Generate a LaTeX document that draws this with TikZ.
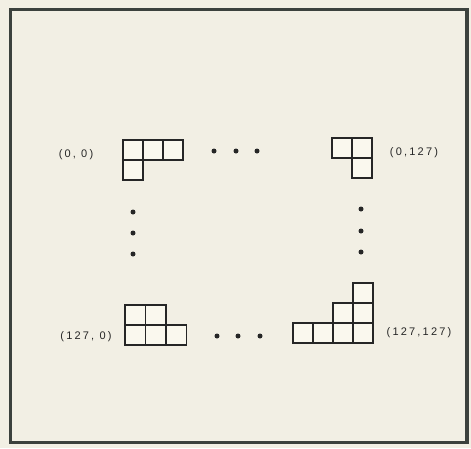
\documentclass[tikz,border=0pt]{standalone}
\usepackage{fontspec}
\usepackage{tikz}
\newfontfamily\lblfont[LetterSpace=20]{Liberation Sans}
\definecolor{paper}{HTML}{F2EFE4}
\definecolor{cellfill}{HTML}{FAF8EE}
\definecolor{framecol}{HTML}{3C413D}
\definecolor{ink}{HTML}{262626}
\tikzset{
    cell/.style={draw=ink, fill=cellfill, line width=1.5pt},
    lbl/.style={inner sep=0pt, text=ink, font=\lblfont\fontsize{11}{13}\selectfont},
    dot/.style={fill=ink}
}

\begin{document}
\begin{tikzpicture}[x=1pt, y=-1pt]
    \useasboundingbox[fill=paper] (0,0) rectangle (471,448);
    \draw[framecol, line width=3.8pt] (10.5,9.5) rectangle (467,442.5);
    % The four corner shapes.
    \begin{scope}[shift={(123,140)}]
        \foreach \i/\j in {0/0,1/0,2/0,0/1}
            \draw[cell] (20*\i,20*\j) rectangle ++(20,20);
    \end{scope}
    \begin{scope}[shift={(332,138)}]
        \foreach \i/\j in {0/0,1/0,1/1}
            \draw[cell] (20*\i,20*\j) rectangle ++(20,20);
    \end{scope}
    \begin{scope}[shift={(125,305)}]
        \foreach \i/\j in {0/0,1/0,0/1,1/1,2/1}
            \draw[cell] (20.5*\i,20*\j) rectangle ++(20.5,20);
    \end{scope}
    \begin{scope}[shift={(293,283)}]
        \foreach \i/\j in {3/0,2/1,3/1,0/2,1/2,2/2,3/2}
            \draw[cell] (20*\i,20*\j) rectangle ++(20,20);
    \end{scope}
    % Below nodes are the labels.
        \node[lbl] (tl) at (76,155) {(0, 0)};
        \node[lbl] (tr) at (414,153) {(0,127)};
        \node[lbl] (bl) at (86,337) {(127, 0)};
        \node[lbl] (br) at (419,333) {(127,127)};
    % This draws the dots.
        \foreach \x in {214,236,257} \fill[dot] (\x,151) circle (2.5);
        \foreach \x in {217,238,260} \fill[dot] (\x,336) circle (2.5);
        \foreach \y in {212,233,254} \fill[dot] (133,\y) circle (2.5);
        \foreach \y in {209,231,252} \fill[dot] (361,\y) circle (2.5);
\end{tikzpicture}
\end{document}
